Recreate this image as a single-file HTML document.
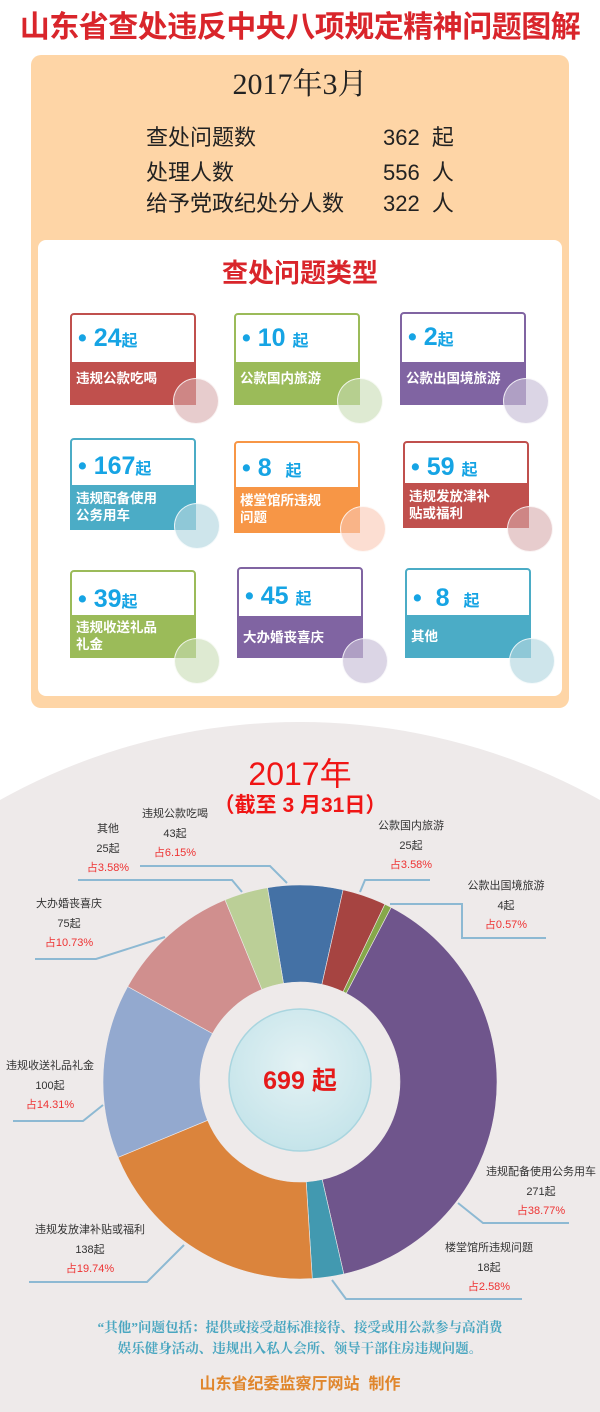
<!DOCTYPE html>
<html><head><meta charset="utf-8"><style>
*{margin:0;padding:0;box-sizing:border-box}
html,body{width:600px;height:1412px;overflow:hidden}
body{position:relative;background:#fff;font-family:"Liberation Sans","Noto Sans CJK SC",sans-serif}
.abs{position:absolute}
.title{left:0;top:8px;width:600px;text-align:center;color:#d9252b;font-weight:bold;font-size:30px;line-height:40px;letter-spacing:-0.5px;white-space:nowrap}
.panel{left:31px;top:55px;width:538px;height:653px;background:#fed5a6;border-radius:10px}
.hdr{left:0;top:68px;width:600px;text-align:center;font-family:"Liberation Serif","Noto Serif CJK SC",serif;font-size:30px;color:#222;line-height:34px}
.row{font-size:22px;color:#222;line-height:26px;white-space:nowrap}
.inner{left:38px;top:240px;width:524px;height:456px;background:#fff;border-radius:8px}
.sub{left:0;top:256px;width:600px;text-align:center;color:#d9252b;font-weight:bold;font-size:26px;line-height:34px}
.card{position:absolute;width:126px;border:2px solid;border-radius:4px 4px 0 0;background:#fff;overflow:visible}
.card .num{position:absolute;left:6px;top:8px;color:#16a4e4;font-weight:bold;font-size:25px;line-height:30px;white-space:nowrap}
.card .num small{font-size:16px}
.card .band{position:absolute;left:-2px;right:-2px;bottom:-2px;color:#fff;font-weight:bold;font-size:13.5px;line-height:17px;padding:8px 4px 0 6px}
.circ{position:absolute;width:46px;height:46px;border-radius:50%;border:1.5px solid rgba(255,255,255,.8)}
.lab{position:absolute;font-size:11px;color:#333;text-align:center;line-height:19.5px;white-space:nowrap;transform:translateX(-50%)}
.lab span{color:#ee3333}
</style></head><body>
<div class="abs title">山东省查处违反中央八项规定精神问题图解</div>
<div class="abs panel"></div>
<div class="abs hdr">2017年3月</div>
<div class="abs row" style="left:146px;top:125px">查处问题数</div>
<div class="abs row" style="left:383px;top:125px">362 &nbsp;起</div>
<div class="abs row" style="left:146px;top:160px">处理人数</div>
<div class="abs row" style="left:383px;top:160px">556 &nbsp;人</div>
<div class="abs row" style="left:146px;top:191px">给予党政纪处分人数</div>
<div class="abs row" style="left:383px;top:191px">322 &nbsp;人</div>
<div class="abs inner"></div>
<div class="abs sub">查处问题类型</div>

<div class="card" style="left:70px;top:313px;height:92px;border-color:#c0504d"><div class="num">• 24<small>起</small></div><div class="band" style="top:47px;background:#c0504d">违规公款吃喝</div></div>
<div class="card" style="left:234px;top:313px;height:92px;border-color:#9bbb59"><div class="num">• 10 <small>起</small></div><div class="band" style="top:47px;background:#9bbb59">公款国内旅游</div></div>
<div class="card" style="left:400px;top:312px;height:93px;border-color:#8064a2"><div class="num">• 2<small>起</small></div><div class="band" style="top:48px;background:#8064a2">公款出国境旅游</div></div>

<div class="card" style="left:70px;top:438px;height:92px;border-color:#4bacc6"><div class="num" style="top:11px">• 167<small>起</small></div><div class="band" style="top:45px;background:#4bacc6;padding-top:5px">违规配备使用<br>公务用车</div></div>
<div class="card" style="left:234px;top:441px;height:92px;border-color:#f79646"><div class="num" style="top:10px">• 8 &nbsp;<small>起</small></div><div class="band" style="top:44px;background:#f79646;padding-top:5px">楼堂馆所违规<br>问题</div></div>
<div class="card" style="left:403px;top:441px;height:87px;border-color:#c0504d"><div class="num" style="top:9px">• 59 <small>起</small></div><div class="band" style="top:40px;background:#c0504d;padding-top:5px">违规发放津补<br>贴或福利</div></div>

<div class="card" style="left:70px;top:570px;height:88px;border-color:#9bbb59"><div class="num" style="top:12px">• 39<small>起</small></div><div class="band" style="top:43px;background:#9bbb59;padding-top:4px">违规收送礼品<br>礼金</div></div>
<div class="card" style="left:237px;top:567px;height:91px;border-color:#8064a2"><div class="num" style="top:12px">• 45 <small>起</small></div><div class="band" style="top:47px;background:#8064a2;padding-top:13px">大办婚丧喜庆</div></div>
<div class="card" style="left:405px;top:568px;height:90px;border-color:#4bacc6"><div class="num" style="top:13px">• &nbsp;8 &nbsp;<small>起</small></div><div class="band" style="top:45px;background:#4bacc6;padding-top:13px">其他</div></div>

<div class="circ" style="left:173px;top:378px;background:rgba(215,170,172,.6)"></div>
<div class="circ" style="left:337px;top:378px;background:rgba(200,220,180,.6)"></div>
<div class="circ" style="left:503px;top:378px;background:rgba(200,190,215,.65)"></div>
<div class="circ" style="left:174px;top:503px;background:rgba(180,215,225,.65)"></div>
<div class="circ" style="left:340px;top:506px;background:rgba(250,200,180,.6)"></div>
<div class="circ" style="left:507px;top:506px;background:rgba(215,170,172,.6)"></div>
<div class="circ" style="left:174px;top:638px;background:rgba(200,220,180,.6)"></div>
<div class="circ" style="left:342px;top:638px;background:rgba(200,190,215,.65)"></div>
<div class="circ" style="left:509px;top:638px;background:rgba(180,215,225,.65)"></div>

<svg class="abs" style="left:0;top:0" width="600" height="1412" viewBox="0 0 600 1412">
<defs><radialGradient id="cg" cx="50%" cy="40%" r="60%"><stop offset="0" stop-color="#e4f2f4"/><stop offset="1" stop-color="#c5e4ea"/></radialGradient>
<clipPath id="pg"><rect x="0" y="0" width="600" height="1412"/></clipPath></defs>
<g clip-path="url(#pg)">
<circle cx="300" cy="1338" r="616" fill="#eeeaea"/>
<rect x="0" y="1338" width="600" height="74" fill="#eeeaea"/>
</g>
<g stroke="#eeeaea" stroke-width="0.6">
<path d="M267.5 887.7 A197 197 0 0 1 343.1 889.8 L321.9 984.4 A100 100 0 0 0 283.5 983.4Z" fill="#4471a5"/>
<path d="M343.1 889.8 A197 197 0 0 1 384.9 904.2 L343.1 991.8 A100 100 0 0 0 321.9 984.4Z" fill="#a64441"/>
<path d="M384.9 904.2 A197 197 0 0 1 391.2 907.4 L346.3 993.4 A100 100 0 0 0 343.1 991.8Z" fill="#86a84a"/>
<path d="M391.2 907.4 A197 197 0 0 1 343.8 1274.1 L322.2 1179.5 A100 100 0 0 0 346.3 993.4Z" fill="#6f558c"/>
<path d="M343.8 1274.1 A197 197 0 0 1 312.3 1278.6 L306.2 1181.8 A100 100 0 0 0 322.2 1179.5Z" fill="#4299b0"/>
<path d="M312.3 1278.6 A197 197 0 0 1 118.0 1157.4 L207.6 1120.3 A100 100 0 0 0 306.2 1181.8Z" fill="#db843c"/>
<path d="M118.0 1157.4 A197 197 0 0 1 127.7 986.5 L212.5 1033.5 A100 100 0 0 0 207.6 1120.3Z" fill="#93a9cf"/>
<path d="M127.7 986.5 A197 197 0 0 1 225.0 899.8 L261.9 989.5 A100 100 0 0 0 212.5 1033.5Z" fill="#d08f8e"/>
<path d="M225.0 899.8 A197 197 0 0 1 267.5 887.7 L283.5 983.4 A100 100 0 0 0 261.9 989.5Z" fill="#bbcf97"/>
</g>
<circle cx="300" cy="1080" r="71" fill="url(#cg)" stroke="#a9d5df" stroke-width="1.5"/>
<g fill="none" stroke="#8db9d3" stroke-width="2">
<polyline points="140,866 270,866 287,883"/>
<polyline points="78,880 232,880 242,892"/>
<polyline points="430,880 365,880 360,892"/>
<polyline points="390,904 462,904 462,938 546,938"/>
<polyline points="35,959 96,959 165,937"/>
<polyline points="13,1121 83,1121 103,1105"/>
<polyline points="458,1203 483,1223 569,1223"/>
<polyline points="29,1282 147,1282 184,1245"/>
<polyline points="332,1280 346,1299 522,1299"/>
</g>
<text x="300" y="785" text-anchor="middle" font-family="Liberation Sans, Noto Sans CJK SC, sans-serif" font-size="32" fill="#f01515">2017年</text>
<text x="300" y="812" text-anchor="middle" font-family="Liberation Sans, Noto Sans CJK SC, sans-serif" font-size="21" font-weight="bold" fill="#f01515">（截至 3 月31日）</text>
<text x="300" y="1089" text-anchor="middle" font-family="Liberation Sans, Noto Sans CJK SC, sans-serif" font-size="25" font-weight="bold" fill="#e51a1a">699 起</text>
</svg>

<div class="lab" style="left:175px;top:805px">违规公款吃喝<br>43起<br><span>占6.15%</span></div>
<div class="lab" style="left:108px;top:820px">其他<br>25起<br><span>占3.58%</span></div>
<div class="lab" style="left:411px;top:817px">公款国内旅游<br>25起<br><span>占3.58%</span></div>
<div class="lab" style="left:506px;top:877px">公款出国境旅游<br>4起<br><span>占0.57%</span></div>
<div class="lab" style="left:69px;top:895px">大办婚丧喜庆<br>75起<br><span>占10.73%</span></div>
<div class="lab" style="left:50px;top:1057px">违规收送礼品礼金<br>100起<br><span>占14.31%</span></div>
<div class="lab" style="left:541px;top:1163px">违规配备使用公务用车<br>271起<br><span>占38.77%</span></div>
<div class="lab" style="left:90px;top:1221px">违规发放津补贴或福利<br>138起<br><span>占19.74%</span></div>
<div class="lab" style="left:489px;top:1239px">楼堂馆所违规问题<br>18起<br><span>占2.58%</span></div>

<div class="abs" style="left:0;top:1317px;width:600px;text-align:center;font-family:'Liberation Serif','Noto Serif CJK SC',serif;font-weight:bold;font-size:13.5px;line-height:21px;color:#4aa6c0;white-space:nowrap">“其他”问题包括：提供或接受超标准接待、接受或用公款参与高消费<br>娱乐健身活动、违规出入私人会所、领导干部住房违规问题。</div>
<div class="abs" style="left:0;top:1374px;width:600px;text-align:center;font-weight:bold;font-size:16px;line-height:22px;color:#e0862c">山东省纪委监察厅网站 &nbsp;制作</div>
</body></html>
